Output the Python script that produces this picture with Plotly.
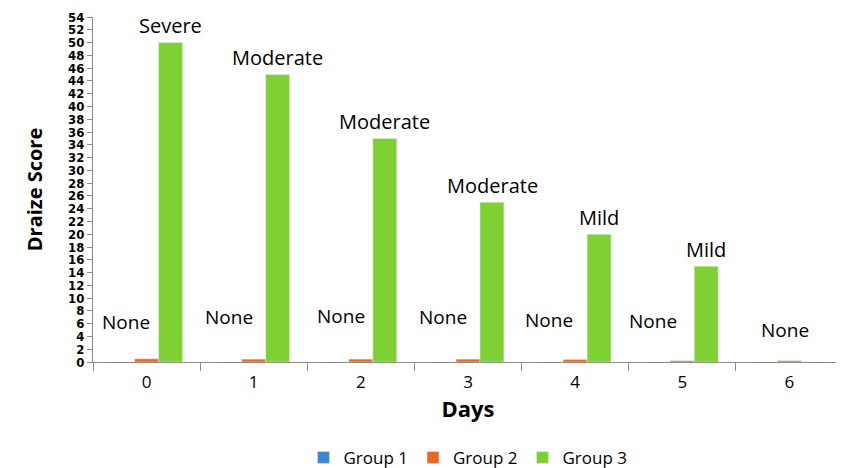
import plotly.graph_objects as go

days = ["0", "1", "2", "3", "4", "5", "6"]
group1 = [0, 0, 0, 0, 0, 0, 0]
group2 = [0.5, 0.45, 0.45, 0.45, 0.4, 0.2, 0.2]
group3 = [50, 45, 35, 25, 20, 15, 0]
labels_group2 = ["None", "None", "None", "None", "None", "None", "None"]
labels_group3 = ["Severe", "Moderate", "Moderate", "Moderate", "Mild", "Mild", ""]
y_ticks = list(range(0, 55, 2))

FONT = "Open Sans, Liberation Sans, Arial, sans-serif"

fig = go.Figure()
fig.add_bar(x=days, y=group1, name="Group 1", marker_color="#3a87d6")
fig.add_bar(x=days, y=group2, name="Group 2", marker_color="#f0651f")
fig.add_bar(x=days, y=group3, name="Group 3", marker_color="#7fd133")

# label offsets (pixels) for the "None" labels
none_shift_x = [-21, -25, -20, -25, -26, -29, -4]
none_y = [6.3, 7.0, 7.2, 7.0, 6.6, 6.4, 5.0]
for i, d in enumerate(days):
    fig.add_annotation(x=d, y=none_y[i], text=labels_group2[i], showarrow=False,
                       xshift=none_shift_x[i], font=dict(size=19, color="black", family=FONT))
    if labels_group3[i]:
        fig.add_annotation(x=d, y=group3[i], text=labels_group3[i], showarrow=False,
                           xshift=24, yshift=17, font=dict(size=20, color="black", family=FONT))

fig.update_layout(
    width=836, height=460,
    margin=dict(l=85, r=1, t=9, b=106, autoexpand=False),
    paper_bgcolor="white", plot_bgcolor="white",
    barmode="group", bargap=0.33, bargroupgap=0,
    font=dict(family=FONT, color="black"),
    showlegend=True,
    legend=dict(orientation="h", x=0.5, xanchor="center", xref="paper",
                y=0.022, yanchor="middle", yref="container",
                font=dict(size=17, family=FONT), traceorder="normal"),
    xaxis=dict(
        title=dict(text="<b>Days</b>", font=dict(size=22, family=FONT), standoff=8),
        showline=True, linecolor="#8c8c8c", linewidth=1, automargin=False,
        ticks="outside", tickson="boundaries", ticklen=8, tickcolor="#8c8c8c",
        ticklabelstandoff=5,
        tickfont=dict(size=17, family=FONT), showgrid=False,
    ),
    yaxis=dict(
        title=dict(text="<b>Draize Score</b>", font=dict(size=20, family=FONT), standoff=20),
        range=[0, 54], tickvals=y_ticks, ticktext=[f"<b>{v}</b>" for v in y_ticks],
        showline=True, linecolor="#8c8c8c", linewidth=1, automargin=False,
        ticks="outside", ticklen=5, tickcolor="#8c8c8c",
        tickfont=dict(size=13, family="Liberation Sans Narrow, DejaVu Sans Condensed, Liberation Sans"),
        showgrid=False, zeroline=False,
    ),
)

fig.write_html("out.html")
